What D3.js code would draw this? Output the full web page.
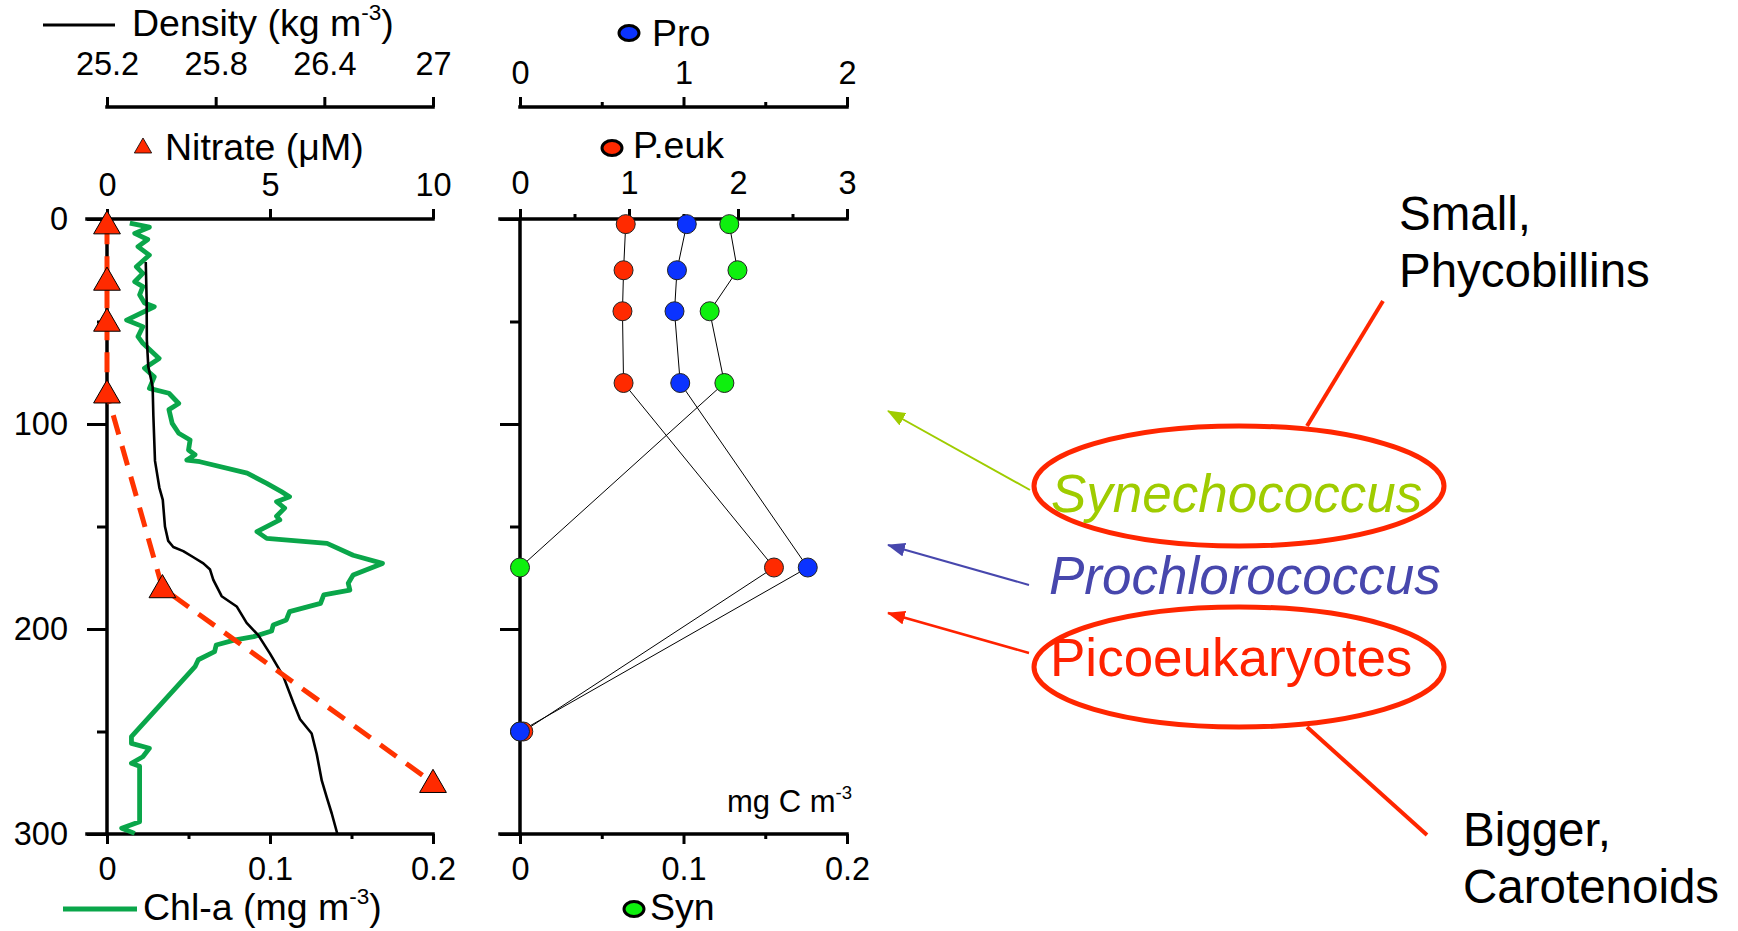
<!DOCTYPE html>
<html><head><meta charset="utf-8">
<script src="https://cdn.jsdelivr.net/npm/d3@7"></script>
<style>
body{margin:0;background:#fff;}
svg{display:block;font-family:"Liberation Sans",Arial,Helvetica,sans-serif;}
</style></head><body>
<svg id="c" width="1738" height="931"></svg>
<script>
// ---------- data ----------
const chlDepth = [2,4,7,10,13.5,17.6,23.3,26.5,30.6,33,37,41,42.8,49.3,52.5,57.4,60.6,68,72.8,77,82.6,85,90,93,99.7,104.5,107.8,112.7,115,117.6,118.4,124,129,133,135.5,137.9,141,145,146.8,152.5,155.8,158.2,164,168,173.7,177.7,181,183.4,187.5,191.5,195.6,198,201,203.7,205.4,207.8,211,215,218.4,252.5,255.8,258.2,262.3,265.5,267,294,297.2,299.7];
const chlValue = [0.014,0.026,0.017,0.025,0.019,0.026,0.018,0.022,0.017,0.022,0.020,0.023,0.029,0.012,0.022,0.019,0.022,0.032,0.023,0.029,0.026,0.038,0.044,0.038,0.040,0.044,0.051,0.050,0.054,0.049,0.057,0.086,0.098,0.107,0.112,0.104,0.109,0.104,0.106,0.092,0.098,0.135,0.151,0.169,0.151,0.148,0.149,0.133,0.131,0.112,0.110,0.102,0.101,0.090,0.078,0.067,0.066,0.056,0.054,0.015,0.015,0.026,0.022,0.015,0.020,0.020,0.009,0.017];
const densDepth = [21,40,59,72,82,96,118,131,137,150,157,160,162,165,168,171,176,184,189,197,203,212,223,236,244,251,261,274,282,290,300];
const densValue = [25.414,25.419,25.420,25.428,25.452,25.456,25.465,25.489,25.508,25.520,25.538,25.566,25.621,25.677,25.732,25.769,25.787,25.833,25.916,25.971,26.035,26.100,26.173,26.229,26.266,26.330,26.358,26.386,26.413,26.441,26.472];
const nitrateDepth = [2.5,30,50,85,180,275];
const nitrateValue = [0,0,0,0,1.7,10];
const cellDepth = [2.5,25,45,80,170,250];
const synValue  = [0.128,0.133,0.116,0.125,0,0];
const peukValue = [0.97,0.95,0.94,0.95,2.33,0.03];
const proValue  = [1.02,0.96,0.945,0.98,1.76,0];
const depthTicks = [0,100,200,300], depthMinor = [50,150,250];
const nitrateTicks = [0,5,10];
const densTicks = [25.2,25.8,26.4,27];
const chlTicks = [0,0.1,0.2], chlMinor = [0.05,0.15];
const proTicks = [0,1,2], proMinor = [0.5,1.5];
const peukTicks = [0,1,2,3], peukMinor = [0.5,1.5,2.5];
const synTicks = [0,0.1,0.2], synMinor = [0.05,0.15];

// ---------- layout ----------
const svg = d3.select('#c');
const L0 = 107, L1 = 433, R0 = 520, R1 = 847, T = 219, B = 834;
const yD = d3.scaleLinear().domain([0,300]).range([T,B]);
const xNit = d3.scaleLinear().domain([0,10]).range([L0,L1]);
const xChl = d3.scaleLinear().domain([0,0.2]).range([L0,L1]);
const xDen = d3.scaleLinear().domain([25.2,27]).range([L0,L1]);
const xPro = d3.scaleLinear().domain([0,2]).range([R0,R1]);
const xPeu = d3.scaleLinear().domain([0,3]).range([R0,R1]);
const xSyn = d3.scaleLinear().domain([0,0.2]).range([R0,R1]);
const TICKFS = 32.5, TITLEFS = 37.5;

function styleAxis(g){
  g.select('.domain').remove();
  g.attr('font-size',TICKFS).attr('font-family',null);
  g.selectAll('line').attr('stroke','#000').attr('stroke-width',3);
  g.selectAll('text').attr('fill','#000');
}
function hAxis(scale, y, top, major, minor, fmt, pad){
  const mk = top ? d3.axisTop : d3.axisBottom;
  const g = svg.append('g').attr('transform',`translate(0,${y})`)
    .call(mk(scale).tickValues(major).tickSize(10).tickPadding(pad).tickFormat(fmt));
  styleAxis(g);
  if (minor){
    const m = svg.append('g').attr('transform',`translate(0,${y})`)
      .call(mk(scale).tickValues(minor).tickSize(5).tickFormat(''));
    styleAxis(m);
  }
}
function hLine(x1,x2,y){
  svg.append('line').attr('x1',x1).attr('x2',x2).attr('y1',y).attr('y2',y)
    .attr('stroke','#000').attr('stroke-width',3.5).attr('stroke-linecap','square');
}
function vAxis(x, labels){
  const g = svg.append('g').attr('transform',`translate(${x},0)`)
    .call(d3.axisLeft(yD).tickValues(depthTicks).tickSize(20).tickPadding(19)
      .tickFormat(labels ? d3.format('d') : ''));
  styleAxis(g);
  const m = svg.append('g').attr('transform',`translate(${x},0)`)
    .call(d3.axisLeft(yD).tickValues(depthMinor).tickSize(10).tickFormat(''));
  styleAxis(m);
  svg.append('line').attr('x1',x).attr('x2',x).attr('y1',T).attr('y2',B)
    .attr('stroke','#000').attr('stroke-width',3.5);
}
const fmtG = d => String(d);

// left panel axes
vAxis(L0, true);
hLine(L0-20, L1, T);
hAxis(xNit, T, true, nitrateTicks, null, fmtG, 13);
hLine(L0-20, L1, B);
hAxis(xChl, B, false, chlTicks, chlMinor, fmtG, 13);
hLine(L0, L1, 107);
hAxis(xDen, 107, true, densTicks, null, d3.format('.1~f'), 22);

// right panel axes
vAxis(R0, false);
hLine(R0-20, R1, T);
hAxis(xPeu, T, true, peukTicks, peukMinor, fmtG, 15);
hLine(R0-20, R1, B);
hAxis(xSyn, B, false, synTicks, synMinor, fmtG, 13);
hLine(R0, R1, 107);
hAxis(xPro, 107, true, proTicks, proMinor, fmtG, 13);

// ---------- left panel data ----------
const chlPts = chlDepth.map((d,i)=>[xChl(chlValue[i]), yD(d)]);
svg.append('path').attr('d', d3.line()(chlPts)).attr('fill','none')
  .attr('stroke','#0aa64a').attr('stroke-width',4.8).attr('stroke-linejoin','round');
const denPts = densDepth.map((d,i)=>[xDen(densValue[i]), yD(d)]);
svg.append('path').attr('d', d3.line()(denPts)).attr('fill','none')
  .attr('stroke','#000').attr('stroke-width',2.6).attr('stroke-linejoin','round');
const nitPts = nitrateDepth.map((d,i)=>[xNit(nitrateValue[i]), yD(d)]);
svg.append('path').attr('d', d3.line()(nitPts)).attr('fill','none')
  .attr('stroke','#ff3300').attr('stroke-width',5).attr('stroke-dasharray','20,12');
const tri = d3.symbol().type(d3.symbolTriangle).size(310);
svg.selectAll('.tri').data(nitPts).join('path').attr('class','tri')
  .attr('d', tri).attr('transform',p=>`translate(${p[0]},${p[1]+2})`)
  .attr('fill','#ff2a00').attr('stroke','#000').attr('stroke-width',1);

// ---------- right panel data ----------
const series = [
  {vals: synValue, x: xSyn, color:'#0ef00e'},
  {vals: peukValue, x: xPeu, color:'#ff2a00'},
  {vals: proValue, x: xPro, color:'#0b33ff'}
];
series.forEach(s=>{
  const pts = cellDepth.map((d,i)=>[s.x(s.vals[i]), yD(d)]);
  svg.append('path').attr('d', d3.line()(pts)).attr('fill','none')
    .attr('stroke','#000').attr('stroke-width',1);
});
series.forEach(s=>{
  const pts = cellDepth.map((d,i)=>[s.x(s.vals[i]), yD(d)]);
  svg.append('g').selectAll('circle').data(pts).join('circle')
    .attr('cx',p=>p[0]).attr('cy',p=>p[1]).attr('r',9.5)
    .attr('fill',s.color).attr('stroke','#222').attr('stroke-width',1);
});

// ---------- titles / legends ----------
function title(x, y, parts, fs, anchor){
  const t = svg.append('text').attr('x',x).attr('y',y).attr('font-size',fs)
    .attr('text-anchor',anchor||'start').attr('fill','#000');
  parts.forEach(p=>{
    if (p.sup){ t.append('tspan').attr('font-size',fs*0.6).attr('dy',-fs*0.42).text(p.sup); }
    else if (p.after){ t.append('tspan').attr('dy',fs*0.42).text(p.after); }
    else t.append('tspan').text(p.t);
  });
  return t;
}
// Density legend
svg.append('line').attr('x1',43).attr('x2',115).attr('y1',25).attr('y2',25)
  .attr('stroke','#000').attr('stroke-width',3);
title(132, 36, [{t:'Density (kg m'},{sup:'-3'},{after:')'}], TITLEFS);
// Nitrate legend
svg.append('path').attr('d', d3.symbol().type(d3.symbolTriangle).size(130))
  .attr('transform','translate(143,148)').attr('fill','#ff2a00').attr('stroke','#000').attr('stroke-width',0.8);
title(165, 160, [{t:'Nitrate (\u03BCM)'}], TITLEFS);
// Chl legend
svg.append('line').attr('x1',63).attr('x2',137).attr('y1',909).attr('y2',909)
  .attr('stroke','#0aa64a').attr('stroke-width',5);
title(143, 920, [{t:'Chl-a (mg m'},{sup:'-3'},{after:')'}], TITLEFS);
// Pro / P.euk / Syn legends
function ellLegend(cx, cy, color, label, tx, ty){
  svg.append('ellipse').attr('cx',cx).attr('cy',cy).attr('rx',10).attr('ry',7.5)
    .attr('fill',color).attr('stroke','#000').attr('stroke-width',3);
  title(tx, ty, [{t:label}], TITLEFS);
}
ellLegend(629, 33, '#0b33ff', 'Pro', 652, 46);
ellLegend(612, 148, '#ff2a00', 'P.euk', 633, 158);
ellLegend(634, 909, '#0ef00e', 'Syn', 650, 920);
title(852, 812, [{t:'mg C m'},{sup:'-3'}], 31, 'end');

// ---------- annotations ----------
const defs = svg.append('defs');
function marker(id,color){
  defs.append('marker').attr('id',id).attr('viewBox','0 0 18 14').attr('refX',17).attr('refY',7)
    .attr('markerWidth',18).attr('markerHeight',14).attr('markerUnits','userSpaceOnUse')
    .attr('orient','auto')
    .append('path').attr('d','M0,0 L18,7 L0,14 Z').attr('fill',color);
}
function arrow(x1,y1,x2,y2,color,id,w){
  marker(id,color);
  svg.append('line').attr('x1',x1).attr('y1',y1).attr('x2',x2).attr('y2',y2)
    .attr('stroke',color).attr('stroke-width',w).attr('marker-end',`url(#${id})`);
}
arrow(1030,490,888,411,'#9fcc00','mg',2);
arrow(1029,585,888,545,'#4747ad','mb',2);
arrow(1029,653,888,613,'#ff2200','mr',2.5);

svg.append('ellipse').attr('cx',1239).attr('cy',486).attr('rx',205).attr('ry',60)
  .attr('fill','none').attr('stroke','#ff2600').attr('stroke-width',5);
svg.append('ellipse').attr('cx',1239).attr('cy',667).attr('rx',205).attr('ry',60)
  .attr('fill','none').attr('stroke','#ff2600').attr('stroke-width',5);
svg.append('line').attr('x1',1383).attr('y1',301).attr('x2',1307).attr('y2',426)
  .attr('stroke','#ff2600').attr('stroke-width',4);
svg.append('line').attr('x1',1307).attr('y1',727).attr('x2',1427).attr('y2',835)
  .attr('stroke','#ff2600').attr('stroke-width',4);

const ann = (x,y,txt,fs,color,italic)=>svg.append('text').attr('x',x).attr('y',y)
  .attr('font-size',fs).attr('fill',color).attr('font-style',italic?'italic':'normal').text(txt);
ann(1399,230,'Small,',47.5,'#000');
ann(1399,287,'Phycobillins',47.5,'#000');
ann(1051,512,'Synechococcus',53,'#9fcc00',true);
ann(1049,594,'Prochlorococcus',53,'#4747ad',true);
ann(1050,676,'Picoeukaryotes',53,'#ff2200');
ann(1463,846,'Bigger,',47.5,'#000');
ann(1463,903,'Carotenoids',47.5,'#000');
</script>
</body></html>
